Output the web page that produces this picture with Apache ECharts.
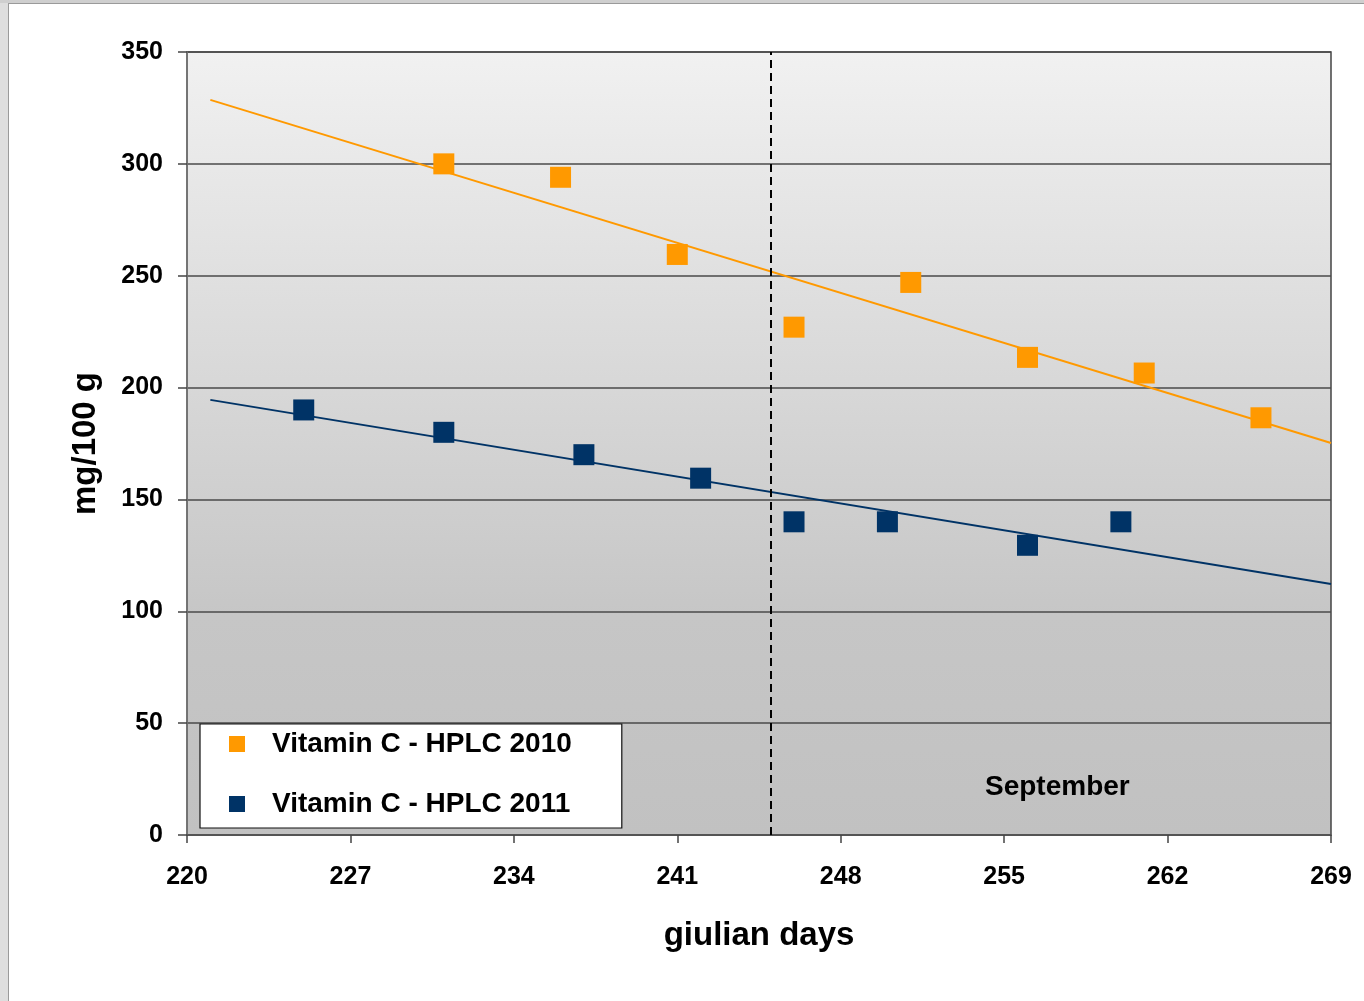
<!DOCTYPE html>
<html>
<head>
<meta charset="utf-8">
<title>Vitamin C</title>
<script src="https://cdn.jsdelivr.net/npm/echarts@6/dist/echarts.min.js"></script>
<style>
  html, body { margin: 0; padding: 0; background: #fff; }
  #chart { width: 1364px; height: 1001px; }
</style>
</head>
<body>
<div id="chart"></div>
<script>
// julian day / mg per 100 g
const days2010 = [231, 236, 241, 246, 251, 256, 261, 266];
const vitc2010 = [300, 294, 259.5, 227, 247, 213.5, 206.5, 186.5];
const days2011 = [225, 231, 237, 242, 246, 250, 256, 260];
const vitc2011 = [190, 180, 170, 159.5, 140, 140, 129.5, 140];

// linear trend lines, endpoints as drawn
const trendDays = [221, 269];
const trend2010 = [328.6, 175.2];
const trend2011 = [194.5, 112.2];

const septemberStart = 245;

const orange = '#ff9900';
const navy = '#003366';
const font = 'Liberation Sans, Arial, sans-serif';

const pairs = (xs, ys) => xs.map((x, i) => [x, ys[i]]);

const chart = echarts.init(document.getElementById('chart'));

chart.setOption({
  animation: false,
  backgroundColor: '#fff',
  textStyle: { fontFamily: font },
  grid: {
    left: 187, right: 33, top: 52, bottom: 166,
    show: true,
    borderColor: '#444',
    borderWidth: 1.5,
    backgroundColor: {
      type: 'linear', x: 0, y: 0, x2: 0, y2: 1,
      colorStops: [
        { offset: 0, color: '#f1f1f1' },
        { offset: 0.72, color: '#c6c6c6' },
        { offset: 1, color: '#c1c1c1' }
      ]
    }
  },
  legend: {
    orient: 'vertical',
    left: 200, top: 724,
    padding: [5, 50, 9, 29],
    itemGap: 30,
    itemWidth: 16, itemHeight: 16,
    backgroundColor: '#fff',
    borderColor: '#111',
    borderWidth: 1.2,
    borderRadius: 0,
    data: [
      { name: 'Vitamin C - HPLC 2010', icon: 'rect' },
      { name: 'Vitamin C - HPLC 2011', icon: 'rect' }
    ],
    textStyle: {
      fontFamily: font, fontSize: 28, fontWeight: 'bold', color: '#000',
      lineHeight: 30, padding: [0, 0, 0, 22]
    }
  },
  xAxis: {
    type: 'value',
    min: 220, max: 269, interval: 7,
    name: 'giulian days',
    nameLocation: 'middle',
    nameGap: 84,
    nameTextStyle: { fontFamily: font, fontSize: 33, fontWeight: 'bold', color: '#000' },
    axisLine: { show: true, lineStyle: { color: '#555', width: 1.5 } },
    axisTick: { show: true, length: 8, lineStyle: { color: '#444', width: 1.5 } },
    axisLabel: { fontFamily: font, fontSize: 25, fontWeight: 'bold', color: '#000', margin: 30 },
    splitLine: { show: false }
  },
  yAxis: {
    type: 'value',
    min: 0, max: 350, interval: 50,
    name: 'mg/100 g',
    nameLocation: 'middle',
    nameGap: 85,
    nameTextStyle: { fontFamily: font, fontSize: 33, fontWeight: 'bold', color: '#000' },
    axisLine: { show: true, lineStyle: { color: '#777', width: 1.5 } },
    axisTick: { show: true, length: 9, lineStyle: { color: '#444', width: 1.5 } },
    axisLabel: { fontFamily: font, fontSize: 25, fontWeight: 'bold', color: '#000', margin: 24 },
    splitLine: { show: true, lineStyle: { color: '#4a4a4a', width: 1.5 } }
  },
  graphic: [
    // window frame at the left and top edge
    { type: 'rect', shape: { x: 0, y: 0, width: 8, height: 1001 }, style: { fill: '#dedede' }, silent: true },
    { type: 'rect', shape: { x: 0, y: 0, width: 1364, height: 3 }, style: { fill: '#cfcfcf' }, silent: true },
    { type: 'line', shape: { x1: 8.5, y1: 3, x2: 8.5, y2: 1001 }, style: { stroke: '#9a9a9a', lineWidth: 1 }, silent: true },
    { type: 'line', shape: { x1: 8, y1: 3.5, x2: 1364, y2: 3.5 }, style: { stroke: '#9a9a9a', lineWidth: 1 }, silent: true },
    {
      type: 'text', left: 985, top: 773, z: 10,
      style: { text: 'September', fontFamily: font, fontSize: 28, fontWeight: 'bold', fill: '#000' }
    }
  ],
  series: [
    {
      name: 'trend 2010', type: 'line',
      data: pairs(trendDays, trend2010),
      showSymbol: false, silent: true,
      lineStyle: { color: orange, width: 2 }, z: 2
    },
    {
      name: 'trend 2011', type: 'line',
      data: pairs(trendDays, trend2011),
      showSymbol: false, silent: true,
      lineStyle: { color: navy, width: 2 }, z: 2,
      markLine: {
        silent: true, symbol: 'none',
        label: { show: false },
        lineStyle: { color: '#000', type: [8, 5], width: 2 },
        data: [{ xAxis: septemberStart }]
      }
    },
    {
      name: 'Vitamin C - HPLC 2010', type: 'scatter',
      data: pairs(days2010, vitc2010),
      symbol: 'rect', symbolSize: 21,
      itemStyle: { color: orange, opacity: 1 }, z: 3
    },
    {
      name: 'Vitamin C - HPLC 2011', type: 'scatter',
      data: pairs(days2011, vitc2011),
      symbol: 'rect', symbolSize: 21,
      itemStyle: { color: navy, opacity: 1 }, z: 3
    }
  ]
});
</script>
</body>
</html>
